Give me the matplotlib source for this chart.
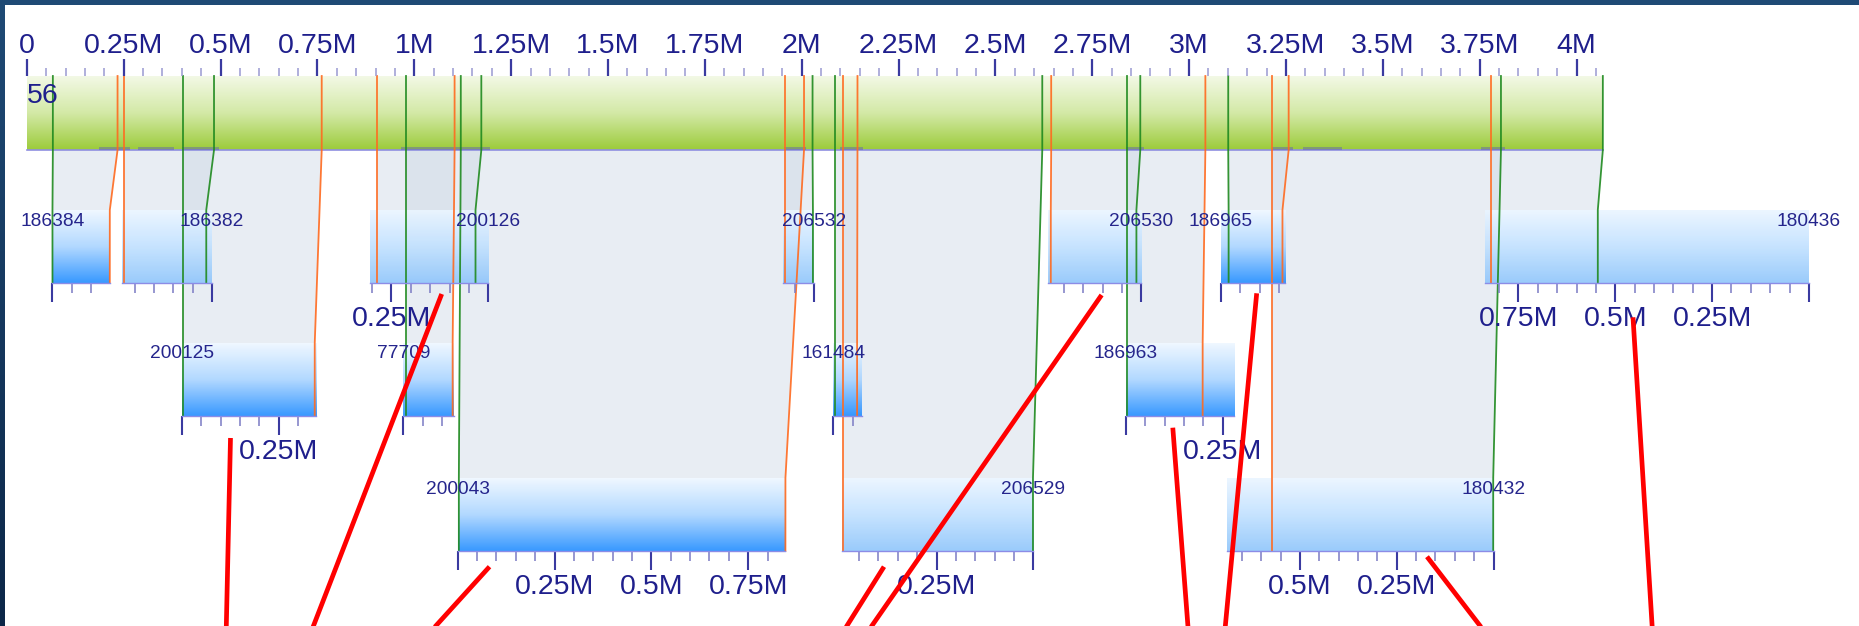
import numpy as np
import matplotlib
matplotlib.use("Agg")
import matplotlib.pyplot as plt
from matplotlib.colors import LinearSegmentedColormap
from matplotlib.patches import Polygon, Rectangle
from matplotlib.ticker import FixedLocator, FuncFormatter

plt.rcParams['font.family'] = ['Liberation Sans', 'DejaVu Sans']

# ---- reference chromosome (kb) ----
ref_name = "56"
ref_length_kb = 4068
ref_feature_start_kb = [186, 288, 400, 966, 1955, 2098, 2837, 3213, 3294, 3754]
ref_feature_end_kb = [267, 380, 497, 1196, 2011, 2158, 2884, 3269, 3394, 3815]

# ---- contigs laid out against the reference (kb) ----
contig_names = ["186384", "186382", "200125", "200126", "77709", "200043", "206532",
                "161484", "206529", "206530", "186963", "186965", "180432", "180436"]
contig_row = [0, 0, 1, 0, 1, 2, 0, 1, 2, 0, 1, 0, 2, 0]
contig_left_kb = [66, 246, 400, 885, 972, 1112, 1953, 2082, 2103, 2636, 2837, 3082, 3099, 3765]
contig_length_kb = [148, 232, 346, 306, 131, 846, 79, 74, 495, 241, 279, 166, 687, 835]
contig_strand = [1, -1, 1, -1, 1, 1, -1, 1, -1, -1, 1, 1, -1, -1]

# alignment ends: reference coordinate and matching contig coordinate
start_ref_kb = [67, 483, 402, 1173, 979, 1120, 2028, 2087, 2621, 2874, 2840, 3101, 3805, 4068]
start_ctg_kb = [0, 15, 2, 33, 7, 3, 3, 5, 1, 13, 3, 20, 1, 545]
end_ref_kb = [234, 250, 761, 903, 1104, 2006, 1958, 2144, 2106, 2644, 3042, 3257, 3213, 3779]
end_ctg_kb = [148, 228, 343, 288, 127, 846, 74, 61, 492, 234, 198, 159, 573, 821]

# hand-drawn pointer strokes (canvas pixels): x0, y0, x1, y1
pointer_x0 = [230.5, 441.7, 489.5, 884.0, 1101.6, 1172.8, 1256.7, 1427.0, 1633.0]
pointer_y0 = [438.0, 294.0, 566.7, 566.7, 295.0, 427.7, 293.3, 556.7, 317.3]
pointer_x1 = [226.0, 308.0, 423.0, 838.0, 862.0, 1189.0, 1224.0, 1491.0, 1653.0]
pointer_y1 = [640.0, 640.0, 640.0, 640.0, 640.0, 640.0, 640.0, 640.0, 640.0]

# ---- canvas geometry ----
W, H = 1859, 626
PX_PER_KB = 0.3874
X0 = -26.9 / PX_PER_KB
X1 = (W - 26.9) / PX_PER_KB
BAR_TOP, BAR_BOT = 76, 150
ROW_TOP = [210, 343, 478]
BOX_H = 73

NAVY = '#1f1f8c'
GREEN = '#1f8a1f'
ORANGE = '#ff6a1f'


def fx(kb):
    return (kb - X0) / (X1 - X0)


def fy(py):
    return 1 - py / H


fig = plt.figure(figsize=(W / 100, H / 100), dpi=100)
fig.patch.set_facecolor('white')
ax = fig.add_axes([0, 0, 1, 1])
ax.set_axis_off()

grad = np.linspace(0, 1, 256).reshape(-1, 1)
bar_cmap = LinearSegmentedColormap.from_list('bar', ['#f3f9e6', '#d3e9a6', '#9ccb3a'])
fwd_cmap = LinearSegmentedColormap.from_list('fwd', ['#eef7ff', '#a8d4ff', '#1c8bff'])
rev_cmap = LinearSegmentedColormap.from_list('rev', ['#eaf5ff', '#bfe0ff', '#8cc4fb'])


def drawn(i, q):
    left, L = contig_left_kb[i], contig_length_kb[i]
    return left + q if contig_strand[i] == 1 else left + L - q


# alignment links
for i in range(len(contig_names)):
    top = ROW_TOP[contig_row[i]]
    r_lo, r_hi = sorted([start_ref_kb[i], end_ref_kb[i]])
    c_lo, c_hi = sorted([drawn(i, start_ctg_kb[i]), drawn(i, end_ctg_kb[i])])
    ax.add_patch(Polygon([(r_lo, BAR_BOT), (r_hi, BAR_BOT), (c_hi, top), (c_lo, top)],
                         closed=True, facecolor='#c9d6e3', edgecolor='none',
                         alpha=0.42, zorder=1))

# reference bar
ax.imshow(grad, extent=(0, ref_length_kb, BAR_BOT, BAR_TOP), origin='upper',
          cmap=bar_cmap, aspect='auto', zorder=2, interpolation='bilinear')
ax.plot([0, ref_length_kb], [BAR_BOT, BAR_BOT], color='#8f8fe0', lw=1.2, zorder=3)
for s, e in zip(ref_feature_start_kb, ref_feature_end_kb):
    ax.add_patch(Rectangle((s, BAR_BOT - 3), e - s, 3, facecolor='#5d5db8',
                           edgecolor='none', alpha=0.45, zorder=3))
ax.text(0, 103, ref_name, ha='left', va='baseline', fontsize=20.5, color=NAVY, zorder=6)

# contig boxes
for i in range(len(contig_names)):
    top = ROW_TOP[contig_row[i]]
    left, L = contig_left_kb[i], contig_length_kb[i]
    cmap = fwd_cmap if contig_strand[i] == 1 else rev_cmap
    ax.imshow(grad, extent=(left, left + L, top + BOX_H, top), origin='upper',
              cmap=cmap, aspect='auto', alpha=0.88, zorder=4, interpolation='bilinear')

# alignment end lines
for i in range(len(contig_names)):
    top = ROW_TOP[contig_row[i]]
    for r, q, col in ((start_ref_kb[i], start_ctg_kb[i], GREEN),
                      (end_ref_kb[i], end_ctg_kb[i], ORANGE)):
        c = drawn(i, q)
        ax.plot([r, r, c, c], [BAR_TOP, BAR_BOT, top, top + BOX_H],
                color=col, lw=1.3, alpha=0.9, zorder=5, solid_joinstyle='miter')

# contig names at the contig origin
for i in range(len(contig_names)):
    top = ROW_TOP[contig_row[i]]
    x0 = drawn(i, 0)
    ax.text(x0, top + 11, contig_names[i], ha='center', va='center',
            fontsize=13.8, color='#25258c', zorder=6)

ax.set_xlim(X0, X1)
ax.set_ylim(H, 0)


def mega_fmt(v, pos):
    return '0' if v == 0 else f'{v / 1000:g}M'


def mega_fmt_noz(v, pos):
    return '' if v == 0 else f'{v / 1000:g}M'


# reference ruler
rax = fig.add_axes([0, fy(BAR_TOP - 0.5), 1, 16.5 / H])
rax.set_xlim(X0, X1)
rax.patch.set_visible(False)
for sp in rax.spines.values():
    sp.set_visible(False)
rax.set_yticks([])
rax.xaxis.set_major_locator(FixedLocator(np.arange(0, ref_length_kb + 1, 250)))
rax.xaxis.set_minor_locator(FixedLocator(np.arange(0, ref_length_kb + 1, 50)))
rax.xaxis.set_major_formatter(FuncFormatter(mega_fmt))
rax.tick_params(axis='x', which='both', bottom=True, top=False, labelbottom=False,
                labeltop=True, direction='in')
rax.tick_params(axis='x', which='major', length=12.2, width=1.6, color='#3a3aa0',
                pad=0, labelsize=20.5, labelcolor=NAVY)
rax.tick_params(axis='x', which='minor', length=5.8, width=1.1, color='#9a9ad2')

# per-contig rulers
for i in range(len(contig_names)):
    top = ROW_TOP[contig_row[i]]
    left, L = contig_left_kb[i], contig_length_kb[i]
    cax = fig.add_axes([fx(left), fy(top + BOX_H), fx(left + L) - fx(left), 1 / H])
    if contig_strand[i] == 1:
        cax.set_xlim(0, L)
    else:
        cax.set_xlim(L, 0)
    cax.patch.set_visible(False)
    for s in ('top', 'left', 'right'):
        cax.spines[s].set_visible(False)
    cax.spines['bottom'].set_color('#8c8ce6')
    cax.spines['bottom'].set_linewidth(1.0)
    cax.set_yticks([])
    cax.xaxis.set_major_locator(FixedLocator(np.arange(0, L + 0.01, 250)))
    cax.xaxis.set_minor_locator(FixedLocator(np.arange(0, L, 50)))
    cax.xaxis.set_major_formatter(FuncFormatter(mega_fmt_noz))
    cax.tick_params(axis='x', which='major', length=13.7, width=1.5, color='#3a3aa0',
                    direction='out', pad=3, labelsize=20.5, labelcolor=NAVY)
    cax.tick_params(axis='x', which='minor', length=7.2, width=1.1, color='#7b7bc4',
                    direction='out')

# overlay: frame and pointer strokes in canvas pixels
ov = fig.add_axes([0, 0, 1, 1])
ov.set_xlim(0, W)
ov.set_ylim(H, 0)
ov.set_axis_off()
ov.patch.set_visible(False)
ov.add_patch(Rectangle((0, 0), W, 5, facecolor='#1f4a75', edgecolor='none', zorder=10))
frame_cmap = LinearSegmentedColormap.from_list('frame', ['#1f4a75', '#0c2748'])
ov.imshow(grad, extent=(0, 5, H, 0), origin='upper', cmap=frame_cmap,
          aspect='auto', zorder=10)
for xa, ya, xb, yb in zip(pointer_x0, pointer_y0, pointer_x1, pointer_y1):
    ov.plot([xa, xb], [ya, yb], color='#ff0000', lw=3.4, solid_capstyle='butt', zorder=11)
ov.set_xlim(0, W)
ov.set_ylim(H, 0)

fig.savefig('out.png', dpi=100, facecolor='white')
